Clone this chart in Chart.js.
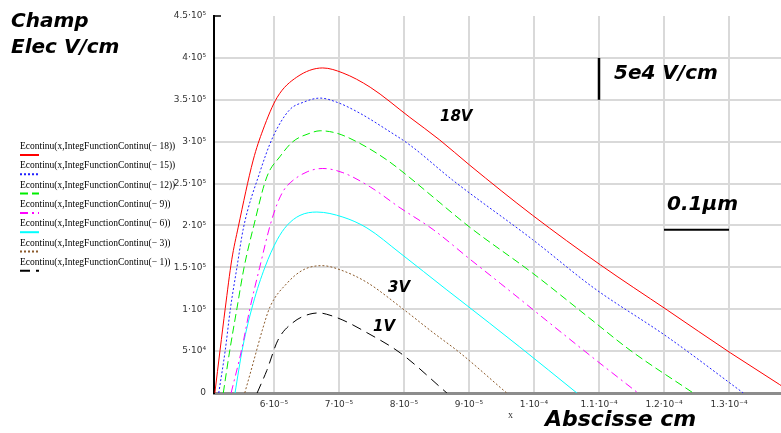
<!DOCTYPE html>
<html>
<head>
<meta charset="utf-8">
<script src="https://cdn.jsdelivr.net/npm/chart.js@4"></script>
<style>
  html, body { margin: 0; padding: 0; background: #fff; overflow: hidden; }
  #fieldChart { position: absolute; left: 0; top: 0; }
</style>
</head>
<body>
<canvas id="fieldChart" width="800" height="433"></canvas>
<script>
// abscissa in units of 1e-5 cm, field in units of 1e5 V/cm
const x18 = [5.09, 5.17, 5.25, 5.35, 5.45, 5.68, 5.83, 6.05, 6.35, 6.75, 7.06, 7.48, 8.09, 8.55, 9.01, 9.98, 11.02, 12.05, 13.02, 13.78, 13.97];
const e18 = [0, 0.51, 1.01, 1.59, 1.98, 2.78, 3.14, 3.53, 3.77, 3.88, 3.82, 3.65, 3.29, 3.02, 2.72, 2.12, 1.53, 0.99, 0.48, 0.10, 0];

const x15 = [5.15, 5.25, 5.33, 5.43, 5.53, 5.78, 5.98, 6.24, 6.45, 6.71, 6.97, 7.32, 7.74, 8.09, 8.75, 9.98, 10.91, 12.05, 13.22];
const e15 = [0, 0.51, 1.01, 1.50, 1.97, 2.63, 3.05, 3.38, 3.47, 3.52, 3.47, 3.34, 3.14, 2.96, 2.54, 1.83, 1.26, 0.67, 0];

const x12 = [5.22, 5.32, 5.43, 5.54, 5.69, 5.89, 6.09, 6.29, 6.55, 6.71, 6.97, 7.32, 7.74, 8.09, 8.40, 9.01, 9.98, 10.86, 11.48, 12.45];
const e12 = [0, 0.51, 1.01, 1.50, 2.00, 2.58, 2.82, 3.00, 3.10, 3.13, 3.10, 2.98, 2.78, 2.57, 2.37, 1.98, 1.43, 0.89, 0.51, 0];

const x9 = [5.34, 5.50, 5.63, 5.78, 5.94, 6.05, 6.15, 6.25, 6.51, 6.75, 7.06, 7.48, 7.94, 8.45, 9.01, 9.48, 10.86, 11.60];
const e9 = [0, 0.51, 1.01, 1.50, 2.00, 2.26, 2.42, 2.51, 2.64, 2.68, 2.63, 2.46, 2.21, 1.95, 1.60, 1.31, 0.45, 0];

const x6 = [5.40, 5.52, 5.68, 5.86, 6.05, 6.20, 6.40, 6.66, 7.06, 7.43, 7.94, 8.66, 8.86, 9.78, 10.66];
const e6 = [0, 0.55, 1.07, 1.50, 1.83, 2.00, 2.12, 2.16, 2.10, 1.97, 1.67, 1.23, 1.11, 0.55, 0];

const x3 = [5.55, 5.68, 5.82, 5.94, 6.20, 6.45, 6.74, 7.02, 7.43, 7.94, 8.45, 8.86, 9.58];
const e3 = [0, 0.36, 0.75, 1.03, 1.31, 1.47, 1.52, 1.47, 1.32, 1.03, 0.72, 0.48, 0];

const x1 = [5.74, 5.89, 6.06, 6.29, 6.60, 6.70, 6.81, 7.06, 7.43, 7.94, 8.66];
const e1 = [0, 0.27, 0.63, 0.84, 0.95, 0.955, 0.94, 0.87, 0.72, 0.48, 0];

const seriesLabels = [
  "Econtinu(x,IntegFunctionContinu(\u2212 18))",
  "Econtinu(x,IntegFunctionContinu(\u2212 15))",
  "Econtinu(x,IntegFunctionContinu(\u2212 12))",
  "Econtinu(x,IntegFunctionContinu(\u2212 9))",
  "Econtinu(x,IntegFunctionContinu(\u2212 6))",
  "Econtinu(x,IntegFunctionContinu(\u2212 3))",
  "Econtinu(x,IntegFunctionContinu(\u2212 1))"
];

const xTicks = [6, 7, 8, 9, 10, 11, 12, 13]; // x 1e-5 cm
const xTickLabels = ["6\u00b710\u207b\u2075", "7\u00b710\u207b\u2075", "8\u00b710\u207b\u2075", "9\u00b710\u207b\u2075",
  "1\u00b710\u207b\u2074", "1.1\u00b710\u207b\u2074", "1.2\u00b710\u207b\u2074", "1.3\u00b710\u207b\u2074"];
const yTicks = [0, 0.5, 1, 1.5, 2, 2.5, 3, 3.5, 4, 4.5]; // x 1e5 V/cm
const yTickLabels = ["0", "5\u00b710\u2074", "1\u00b710\u2075", "1.5\u00b710\u2075", "2\u00b710\u2075", "2.5\u00b710\u2075",
  "3\u00b710\u2075", "3.5\u00b710\u2075", "4\u00b710\u2075", "4.5\u00b710\u2075"];

const curves = [
  { xs: x18, es: e18, color: "#ff0000", dash: [] },
  { xs: x15, es: e15, color: "#2020ff", dash: [2, 2] },
  { xs: x12, es: e12, color: "#00ee00", dash: [8, 4] },
  { xs: x9, es: e9, color: "#ff00ff", dash: [8, 4, 2, 4] },
  { xs: x6, es: e6, color: "#00ffff", dash: [] },
  { xs: x3, es: e3, color: "#8b5a2b", dash: [2, 2] },
  { xs: x1, es: e1, color: "#000000", dash: [10, 6] }
];

const boldItalic = (size) => "oblique bold " + size + "px 'DejaVu Sans', Verdana, sans-serif";
const tickFont = { family: "'DejaVu Sans', sans-serif", size: 9 };

const overlay = {
  id: "overlay",
  afterDraw(chart) {
    const ctx = chart.ctx;
    const xs = chart.scales.x, ys = chart.scales.y;
    ctx.save();

    // legend on the left
    chart.data.datasets.forEach((ds, i) => {
      const ty = 149 + i * 19.3;
      ctx.font = "9.5px 'Liberation Serif', serif";
      ctx.fillStyle = "#000";
      ctx.textAlign = "left";
      ctx.textBaseline = "alphabetic";
      ctx.fillText(ds.label, 20, ty);
      ctx.beginPath();
      ctx.setLineDash(ds.borderDash || []);
      ctx.strokeStyle = ds.borderColor;
      ctx.lineWidth = 2;
      ctx.moveTo(20, ty + 6);
      ctx.lineTo(39, ty + 6);
      ctx.stroke();
    });
    ctx.setLineDash([]);

    // short stub at the top of the y axis
    ctx.strokeStyle = "#000";
    ctx.lineWidth = 1.5;
    ctx.beginPath();
    ctx.moveTo(xs.left, ys.top);
    ctx.lineTo(xs.left + 7, ys.top);
    ctx.stroke();

    // scale bars
    ctx.lineWidth = 2.5;
    ctx.beginPath();
    const bx = xs.getPixelForValue(11e-5);
    ctx.moveTo(bx, ys.getPixelForValue(4.0e5));
    ctx.lineTo(bx, ys.getPixelForValue(3.5e5));
    ctx.stroke();
    ctx.lineWidth = 2;
    ctx.beginPath();
    const by = ys.getPixelForValue(1.95e5);
    ctx.moveTo(xs.getPixelForValue(12e-5), by);
    ctx.lineTo(xs.getPixelForValue(13e-5), by);
    ctx.stroke();

    // texts
    ctx.fillStyle = "#000";
    ctx.textAlign = "left";
    ctx.font = boldItalic(20);
    ctx.fillText("Champ", 11, 27);
    ctx.fillText("Elec V/cm", 11, 53);
    ctx.fillText("5e4 V/cm", 614, 79);
    ctx.fillText("0.1\u00b5m", 667, 210);
    ctx.font = boldItalic(15);
    ctx.fillText("18V", 440, 121);
    ctx.fillText("3V", 388, 292);
    ctx.fillText("1V", 373, 331);
    ctx.font = boldItalic(22);
    ctx.fillText("Abscisse cm", 545, 426);
    ctx.font = "10px 'Liberation Serif', serif";
    ctx.fillStyle = "#333";
    ctx.fillText("x", 508, 418);
    ctx.restore();
  }
};

new Chart(document.getElementById("fieldChart"), {
  type: "line",
  data: {
    datasets: curves.map((c, i) => ({
      label: seriesLabels[i],
      data: c.xs.map((x, j) => ({ x: x * 1e-5, y: c.es[j] * 1e5 })),
      borderColor: c.color,
      borderDash: c.dash,
      borderWidth: 1,
      pointRadius: 0,
      fill: false,
      cubicInterpolationMode: "monotone"
    }))
  },
  options: {
    responsive: false,
    animation: false,
    layout: { padding: { left: 0, top: 16, right: 6, bottom: 0 } },
    plugins: { legend: { display: false }, tooltip: { enabled: false } },
    scales: {
      x: {
        type: "linear",
        min: 5.077e-5,
        max: 1.4e-4,
        afterBuildTicks: s => { s.ticks = xTicks.map(v => ({ value: v * 1e-5 })); },
        afterFit: s => { s.height = 40; },
        grid: { color: "#d9d9d9", lineWidth: 2, drawTicks: false },
        border: { color: "#8c8c8c", width: 3 },
        ticks: {
          padding: 6, color: "#333", maxRotation: 0, autoSkip: false,
          font: tickFont,
          callback: (v, i) => xTickLabels[i]
        }
      },
      y: {
        min: 0,
        max: 4.5e5,
        afterBuildTicks: s => { s.ticks = yTicks.map(v => ({ value: v * 1e5 })); },
        afterFit: s => { s.width = 214; },
        grid: {
          color: c => (c.tick && c.tick.value >= 4.5e5 ? "rgba(0,0,0,0)" : "#d9d9d9"),
          lineWidth: 2, drawTicks: false
        },
        border: { color: "#000", width: 2 },
        ticks: {
          padding: 8, color: "#333",
          font: tickFont,
          callback: (v, i) => yTickLabels[i]
        }
      }
    }
  },
  plugins: [overlay]
});
</script>
</body>
</html>
